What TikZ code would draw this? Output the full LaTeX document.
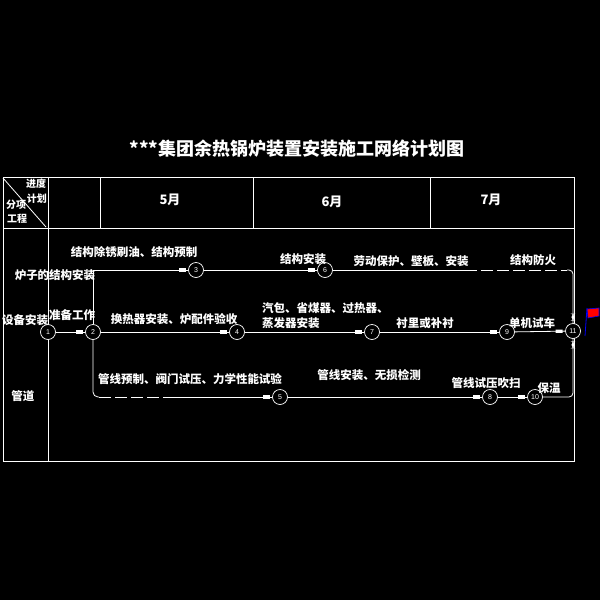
\documentclass[tikz,border=0pt]{standalone}
\usepackage{fontspec}
\newfontfamily\cjk{Noto Sans CJK SC}
\newfontfamily\numf{Liberation Sans}
\usetikzlibrary{decorations.markings}
\tikzset{
  ln/.style={white, line width=0.8pt},
  dsh/.style={ln, dash pattern=on 12pt off 4pt},
  arr/.style={ln, postaction={decorate}, decoration={markings,
      mark=at position -2.5pt with {\fill[white] (-7pt,-1.6pt) rectangle (0pt,1.6pt);}}},
  ev/.style={circle, draw=white, fill=black, line width=0.7pt, minimum size=15pt,
      inner sep=0pt, text=white, font=\numf\fontsize{7}{7}\selectfont},
  lbl/.style={text=white, font=\cjk\bfseries\fontsize{11.5}{13}\selectfont, inner sep=0pt},
  hd/.style={text=white, font=\cjk\bfseries\fontsize{10}{12}\selectfont, inner sep=0pt},
  mon/.style={text=white, font=\cjk\bfseries\fontsize{13}{14}\selectfont, inner sep=0pt},
}
\begin{document}
\begin{tikzpicture}[x=1pt,y=-1pt]
\fill[black] (0,0) rectangle (600,600);
\useasboundingbox (0,0) rectangle (600,600);
% title
\node[text=white, font=\cjk\bfseries\fontsize{18}{20}\selectfont] (title) at (297,149) {***集团余热锅炉装置安装施工网络计划图};
% table
\draw[ln] (3,177) rectangle (574,461);
\draw[ln] (3,228) -- (574,228);
\draw[ln] (48,177) -- (48,461);
\draw[ln] (100,177) -- (100,228);
\draw[ln] (253,177) -- (253,228);
\draw[ln] (430,177) -- (430,228);
\draw[ln] (3,178) -- (46,227);
% header texts
\node[hd] (h1) at (36,184) {进度};
\node[hd] (h2) at (37,199) {计划};
\node[hd] (h3) at (16,205) {分项};
\node[hd] (h4) at (17,219) {工程};
\node[mon] (m5) at (170,200) {5月};
\node[mon] (m6) at (332,202) {6月};
\node[mon] (m7) at (491,200) {7月};
% row labels
\node[lbl] (r1) at (55,275) {炉子的结构安装};
\node[lbl] (r2) at (25,320) {设备安装};
\node[lbl] (r3) at (23,396) {管道};
% events
\node[ev] (n1) at (48,332) {1};
\node[ev] (n2) at (93,332) {2};
\node[ev] (n3) at (196,270) {3};
\node[ev] (n4) at (237,332) {4};
\node[ev] (n5) at (280,397) {5};
\node[ev] (n6) at (325,270) {6};
\node[ev] (n7) at (372,332) {7};
\node[ev] (n8) at (490,397) {8};
\node[ev] (n9) at (507,332) {9};
\node[ev] (n10) at (535,397) {10};
\node[ev] (n11) at (573,331) {11};
% helper coordinates
\coordinate (t1) at (465,270);
\coordinate (t2) at (567,270);
\coordinate (t3) at (573,270);
\coordinate (b1) at (99,397);
\coordinate (b2) at (175,397);
% connectors
\draw[arr] (n1) -- (n2);
\draw[arr] (n2) |- (n3);
\draw[arr] (n3) -- (n6);
\draw[ln] (n6) -- (t1);
\draw[dsh] (t1) -- (t2);
\draw[arr, rounded corners=4pt] (t2) -- (t3) -- (n11);
\draw[arr] (n2) -- (n4);
\draw[arr] (n4) -- (n7);
\draw[arr] (n7) -- (n9);
\draw[arr] (n9) -- (n11);
\draw[ln, rounded corners=5pt] (n2) |- (b1);
\draw[dsh] (b1) -- (b2);
\draw[arr] (b2) -- (n5);
\draw[arr] (n5) -- (n8);
\draw[arr] (n8) -- (n10);
\draw[arr, rounded corners=4pt] (n10) -| (n11);
% activity labels
\node[lbl] (a1) at (134,252) {结构除锈刷油、结构预制};
\node[lbl] (a2) at (72,315) {准备工作};
\node[lbl] (a3) at (174,319) {换热器安装、炉配件验收};
\node[lbl] (a4) at (303,259) {结构安装};
\node[lbl] (a5) at (411,261) {劳动保护、壁板、安装};
\node[lbl] (a6) at (533,260) {结构防火};
\node[lbl, anchor=west] (a7) at (262,308) {汽包、省煤器、过热器、};
\node[lbl, anchor=west] (a8) at (262,323) {蒸发器安装};
\node[lbl] (a9) at (425,323) {衬里或补衬};
\node[lbl] (a10) at (532,323) {单机试车};
\node[lbl] (a11) at (190,379) {管线预制、阀门试压、力学性能试验};
\node[lbl] (a12) at (369,375) {管线安装、无损检测};
\node[lbl] (a13) at (486,383) {管线试压吹扫};
\node[lbl] (a14) at (549,388) {保温};
% flag
\fill[red, draw=blue, line width=0.6pt] (587,309) -- (599,308) -- (599,316) -- (588,318) -- cycle;
\draw[blue, line width=0.8pt] (585,336) -- (587,308);
\end{tikzpicture}
\end{document}
